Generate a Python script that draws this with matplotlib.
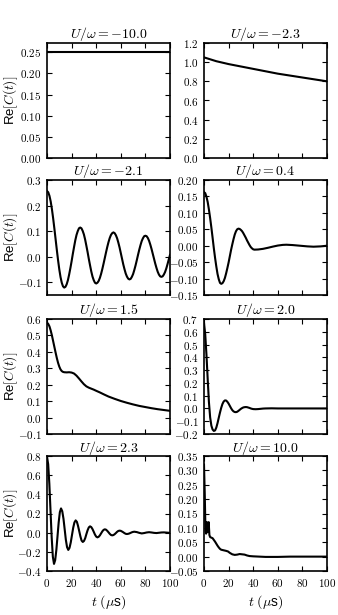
import matplotlib
matplotlib.use("Agg")
import matplotlib.pyplot as plt
from matplotlib.ticker import FixedLocator, FuncFormatter

plt.rcParams['mathtext.fontset'] = 'cm'
plt.rcParams['font.family'] = ['Liberation Sans', 'DejaVu Sans']

# ---------------- data ----------------
titles = [r'$U/\omega = -10.0$', r'$U/\omega = -2.3$',
          r'$U/\omega = -2.1$', r'$U/\omega = 0.4$',
          r'$U/\omega = 1.5$', r'$U/\omega = 2.0$',
          r'$U/\omega = 2.3$', r'$U/\omega = 10.0$']

t_m10 = [0, 100]
c_m10 = [0.25, 0.25]

t_m23 = [0, 5, 10, 15, 20, 30, 40, 50, 60, 70, 80, 90, 100]
c_m23 = [1.05, 1.03, 1.01, 0.995, 0.98, 0.955, 0.93, 0.905, 0.88, 0.86, 0.84, 0.82, 0.80]

t_m21 = list(range(0, 101))
c_m21 = [0.257, 0.252, 0.238, 0.216, 0.186, 0.150, 0.110, 0.068, 0.026, -0.014,
         -0.050, -0.080, -0.102, -0.116, -0.121,
         -0.118, -0.108, -0.092, -0.070, -0.045, -0.018, 0.011, 0.038, 0.064, 0.085, 0.100, 0.111, 0.114,
         0.111, 0.101, 0.087, 0.067, 0.043, 0.018, -0.009, -0.034, -0.058, -0.078, -0.092, -0.102, -0.105,
         -0.102, -0.095, -0.083, -0.067, -0.048, -0.027, -0.005, 0.017, 0.038, 0.057, 0.073, 0.085, 0.092, 0.095,
         0.092, 0.084, 0.072, 0.055, 0.036, 0.014, -0.008, -0.030, -0.049, -0.066, -0.078, -0.086, -0.089,
         -0.087, -0.079, -0.068, -0.052, -0.034, -0.014, 0.007, 0.027, 0.045, 0.061, 0.072, 0.080, 0.082,
         0.080, 0.073, 0.062, 0.047, 0.030, 0.011, -0.008, -0.027, -0.044, -0.059, -0.070, -0.077, -0.079,
         -0.077, -0.070, -0.060, -0.046, -0.029, -0.011, 0.007]

t_04 = list(range(0, 42)) + [44, 48, 52, 56, 60, 64, 67, 72, 78, 84, 89, 95, 100]
c_04 = [0.163, 0.160, 0.149, 0.133, 0.110, 0.084, 0.055, 0.024, -0.008, -0.037,
        -0.063, -0.086, -0.102, -0.113, -0.116,
        -0.114, -0.108, -0.098, -0.084, -0.068, -0.051, -0.032, -0.013, 0.004, 0.020, 0.034, 0.044, 0.050, 0.052,
        0.051, 0.048, 0.044, 0.038, 0.031, 0.024, 0.016, 0.009, 0.002, -0.004, -0.008, -0.011, -0.012,
        -0.0115, -0.0095, -0.0063, -0.0027, 0.0005, 0.0025, 0.003, 0.002, 0.0, -0.002, -0.003, -0.002, 0.0]

t_15 = [0, 1, 2, 3, 4, 5, 6, 7, 8, 9, 10, 11, 12, 13, 14, 16, 18, 20, 22, 24, 26, 28, 30,
        32, 34, 36, 38, 40, 43, 46, 50, 55, 60, 65, 70, 75, 80, 85, 90, 95, 100]
c_15 = [0.578, 0.570, 0.555, 0.530, 0.500, 0.465, 0.430, 0.395, 0.362, 0.333, 0.310, 0.293,
        0.283, 0.278, 0.276, 0.275, 0.276, 0.274, 0.268, 0.255, 0.238, 0.220, 0.203, 0.190,
        0.182, 0.176, 0.170, 0.163, 0.153, 0.142, 0.128, 0.114, 0.101, 0.090, 0.080, 0.071,
        0.064, 0.057, 0.051, 0.046, 0.041]

t_20 = list(range(0, 41)) + [42, 44, 46, 48, 50, 55, 60, 100]
c_20 = [0.67, 0.58, 0.42, 0.23, 0.05, -0.07, -0.135, -0.165, -0.176, -0.172, -0.150, -0.115,
        -0.073, -0.032, 0.005, 0.035, 0.054, 0.063, 0.062, 0.052, 0.038, 0.020, 0.002, -0.013,
        -0.023, -0.028, -0.029, -0.026, -0.019, -0.011, -0.003, 0.003, 0.008, 0.010, 0.011,
        0.010, 0.007, 0.004, 0.000, -0.003, -0.005, -0.006, -0.005, -0.003, -0.001, 0.0, 0.001,
        0.0, 0.0]

t_23 = [0, 0.95, 1.9, 2.85, 3.8, 4.75, 5.7, 6.65, 7.6, 8.55, 9.5, 10.45, 11.4,
        12.4, 13.4, 14.35, 15.3, 16.3, 17.3, 18.3, 19.3, 20.3, 21.3, 22.3, 23.3,
        24.3, 25.2, 26.2, 27.2, 28.1, 29.1, 30.1, 31.1, 32.0, 33.0, 34.0, 35.0,
        36, 37, 38, 39, 40, 41, 42, 43, 44, 45, 46, 47, 48, 49, 50, 51, 52, 53,
        54, 55, 56, 57, 58, 59, 60, 61, 62, 63, 64, 65, 66, 67, 68, 69, 70, 71,
        73, 75, 77, 79, 81, 83, 85, 87, 89, 91, 93, 95, 97, 100]
c_23 = [0.79, 0.715, 0.511, 0.232, -0.047, -0.251, -0.326, -0.287, -0.181, -0.037, 0.108, 0.214, 0.253,
        0.224, 0.145, 0.037, -0.072, -0.151, -0.180, -0.159, -0.103, -0.026, 0.051, 0.107, 0.128,
        0.113, 0.072, 0.016, -0.041, -0.082, -0.097, -0.086, -0.056, -0.016, 0.025, 0.055, 0.066,
        0.058, 0.037, 0.009, -0.020, -0.041, -0.049, -0.043, -0.028, -0.007, 0.014, 0.029, 0.035,
        0.031, 0.019, 0.004, -0.012, -0.024, -0.028, -0.025, -0.016, -0.004, 0.009, 0.018, 0.021,
        0.019, 0.012, 0.004, -0.005, -0.012, -0.014, -0.012, -0.008, -0.002, 0.004, 0.008, 0.010,
        0.006, -0.002, -0.008, -0.004, 0.002, 0.005, 0.002, -0.002, -0.004, -0.001, 0.002, 0.003,
        0.001, -0.002]

t_10 = [0, 0.6, 1.2, 1.7, 2.3, 2.8, 3.3, 3.8, 4.4, 5, 6, 7, 8, 9, 10, 11, 12, 13, 14, 16,
        18, 19.5, 21, 23, 25, 27, 29, 31, 33, 35, 37, 40, 45, 50, 60, 70, 100]
c_10 = [0.32, 0.22, 0.09, 0.08, 0.12, 0.085, 0.095, 0.12, 0.075, 0.068, 0.066, 0.064, 0.058,
        0.052, 0.045, 0.038, 0.032, 0.027, 0.024, 0.022, 0.020, 0.018, 0.013, 0.008, 0.006,
        0.007, 0.009, 0.008, 0.007, 0.004, 0.002, 0.001, 0.0, -0.001, -0.001, 0.0, 0.0]

series = [(t_m10, c_m10), (t_m23, c_m23), (t_m21, c_m21), (t_04, c_04),
          (t_15, c_15), (t_20, c_20), (t_23, c_23), (t_10, c_10)]

ylims = [(0, 0.272), (0, 1.2), (-0.15, 0.3), (-0.15, 0.2),
         (-0.1, 0.6), (-0.2, 0.7), (-0.4, 0.8), (-0.05, 0.35)]
yticks = [[0.0, 0.05, 0.10, 0.15, 0.20, 0.25],
          [0.0, 0.2, 0.4, 0.6, 0.8, 1.0, 1.2],
          [-0.1, 0.0, 0.1, 0.2, 0.3],
          [-0.15, -0.10, -0.05, 0.0, 0.05, 0.10, 0.15, 0.20],
          [-0.1, 0.0, 0.1, 0.2, 0.3, 0.4, 0.5, 0.6],
          [-0.2, -0.1, 0.0, 0.1, 0.2, 0.3, 0.4, 0.5, 0.6, 0.7],
          [-0.4, -0.2, 0.0, 0.2, 0.4, 0.6, 0.8],
          [-0.05, 0.0, 0.05, 0.10, 0.15, 0.20, 0.25, 0.30, 0.35]]
ydec = [2, 1, 1, 2, 1, 1, 1, 2]
xticks = [0, 20, 40, 60, 80, 100]

# ---------------- layout ----------------
W, H = 338, 615
fig = plt.figure(figsize=(W / 100, H / 100), dpi=100)
lefts = [47, 204]
tops = [43, 180, 319, 456]
aw, ah = 123, 115

for i in range(8):
    r, c = divmod(i, 2)
    ax = fig.add_axes([lefts[c] / W, 1 - (tops[r] + ah) / H, aw / W, ah / H])
    tt, vv = series[i]
    ax.plot(tt, vv, color='black', lw=1.5)
    ax.set_xlim(0, 100)
    ax.set_ylim(*ylims[i])
    ax.yaxis.set_major_locator(FixedLocator(yticks[i]))
    d = ydec[i]
    ax.yaxis.set_major_formatter(FuncFormatter(
        lambda v, p, d=d: r'$%s$' % (('%.' + str(d) + 'f') % v)))
    ax.xaxis.set_major_locator(FixedLocator(xticks))
    if r == 3:
        ax.xaxis.set_major_formatter(FuncFormatter(lambda v, p: r'$%d$' % v))
        ax.set_xlabel(r'$t$ $(\mu$s$)$', fontsize=10, labelpad=3)
    else:
        ax.set_xticklabels([])
    ax.tick_params(direction='in', top=True, right=True, length=3.5, width=0.8,
                   labelsize=8, pad=4)
    for s in ax.spines.values():
        s.set_linewidth(1.2)
    ax.set_title(titles[i], fontsize=10, pad=3)
    if c == 0:
        ax.set_ylabel(r'Re$[C(t)]$', fontsize=9.5)
        ax.yaxis.set_label_coords(-0.222, 0.5)

fig.savefig('out.png', dpi=100)
